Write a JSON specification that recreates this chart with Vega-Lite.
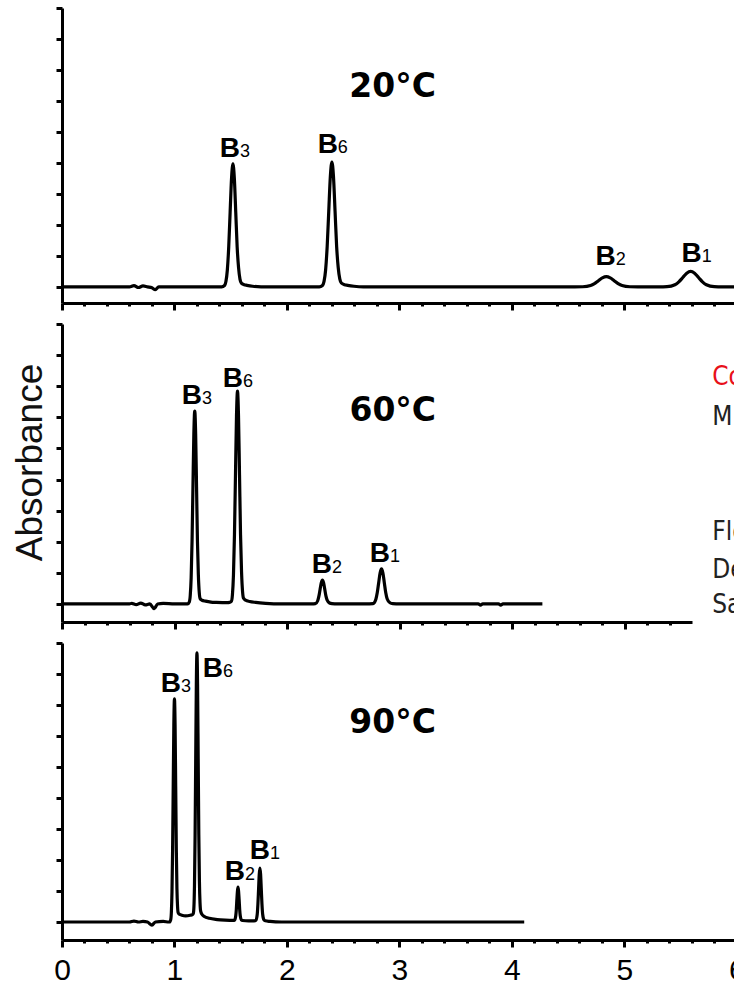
{
  "$schema": "https://vega.github.io/schema/vega-lite/v6.json",
  "padding": {"top": 6, "left": 10, "right": 0, "bottom": 0},
  "spacing": 10,
  "config": {
    "view": {"stroke": null},
    "axis": {"domainColor": "black", "tickColor": "black", "grid": false, "labelFont": "Liberation Sans", "titleFont": "Liberation Sans", "domainWidth": 3, "tickWidth": 3}
  },
  "datasets": {
    "p20": [
      {"x":0,"y":0},{"x":0.3,"y":0},{"x":0.6,"y":0},{"x":0.64,"y":0.04},{"x":0.68,"y":-0.02},{"x":0.72,"y":0.03},{"x":0.76,"y":0},{"x":0.8,"y":-0.03},{"x":0.83,"y":-0.09},{"x":0.86,"y":0},{"x":1.0,"y":0},{"x":1.42,"y":0},
      {"x":1.445,"y":0.044},{"x":1.4575,"y":0.174},{"x":1.47,"y":0.537},{"x":1.4825,"y":1.289},{"x":1.495,"y":2.408},{"x":1.5075,"y":3.504},{"x":1.52,"y":3.97},{"x":1.5325,"y":3.504},{"x":1.545,"y":2.408},{"x":1.5575,"y":1.289},{"x":1.57,"y":0.62},{"x":1.5825,"y":0.25},{"x":1.595,"y":0.12},{"x":1.62,"y":0.07},{"x":1.645,"y":0.05},{"x":1.695,"y":0.02},{"x":1.77,"y":0},
      {"x":2.0,"y":0},{"x":2.288,"y":0},
      {"x":2.316,"y":0.045},{"x":2.33,"y":0.177},{"x":2.344,"y":0.545},{"x":2.358,"y":1.309},{"x":2.372,"y":2.444},{"x":2.386,"y":3.556},{"x":2.4,"y":4.03},{"x":2.414,"y":3.556},{"x":2.428,"y":2.444},{"x":2.442,"y":1.309},{"x":2.456,"y":0.625},{"x":2.47,"y":0.257},{"x":2.484,"y":0.125},{"x":2.512,"y":0.07},{"x":2.54,"y":0.05},{"x":2.596,"y":0.02},{"x":2.68,"y":0},
      {"x":3.5,"y":0},{"x":4.56,"y":0},
      {"x":4.63,"y":0.004},{"x":4.7,"y":0.045},{"x":4.735,"y":0.107},{"x":4.77,"y":0.2},{"x":4.805,"y":0.291},{"x":4.84,"y":0.33},{"x":4.875,"y":0.291},{"x":4.91,"y":0.2},{"x":4.945,"y":0.107},{"x":4.98,"y":0.045},{"x":5.05,"y":0.004},{"x":5.12,"y":0},
      {"x":5.31,"y":0},
      {"x":5.38,"y":0.006},{"x":5.45,"y":0.068},{"x":5.485,"y":0.162},{"x":5.52,"y":0.303},{"x":5.555,"y":0.441},{"x":5.59,"y":0.5},{"x":5.625,"y":0.441},{"x":5.66,"y":0.303},{"x":5.695,"y":0.162},{"x":5.73,"y":0.068},{"x":5.8,"y":0.006},{"x":5.87,"y":0},{"x":6.5,"y":0}
    ],
    "p60": [
      {"x":0,"y":0},{"x":0.3,"y":0},{"x":0.6,"y":0},{"x":0.62,"y":0.02},{"x":0.66,"y":-0.02},{"x":0.7,"y":0.03},{"x":0.74,"y":-0.03},{"x":0.78,"y":0},{"x":0.82,"y":-0.15},{"x":0.85,"y":0},{"x":0.9,"y":0.02},{"x":1.0,"y":0},{"x":1.116,"y":0},
      {"x":1.132,"y":0.069},{"x":1.14,"y":0.272},{"x":1.148,"y":0.839},{"x":1.156,"y":2.013},{"x":1.164,"y":3.76},{"x":1.172,"y":5.47},{"x":1.18,"y":6.2},{"x":1.188,"y":5.47},{"x":1.196,"y":3.76},{"x":1.204,"y":2.013},{"x":1.212,"y":0.94},{"x":1.22,"y":0.37},{"x":1.228,"y":0.17},{"x":1.244,"y":0.12},{"x":1.276,"y":0.09},{"x":1.324,"y":0.06},{"x":1.372,"y":0.05},{"x":1.47,"y":0.04},
      {"x":1.488,"y":0.05},{"x":1.506,"y":0.09},{"x":1.515,"y":0.3},{"x":1.524,"y":0.925},{"x":1.533,"y":2.221},{"x":1.542,"y":4.148},{"x":1.551,"y":6.036},{"x":1.56,"y":6.84},{"x":1.569,"y":6.036},{"x":1.578,"y":4.148},{"x":1.587,"y":2.221},{"x":1.596,"y":1.03},{"x":1.605,"y":0.4},{"x":1.614,"y":0.18},{"x":1.632,"y":0.12},{"x":1.668,"y":0.08},{"x":1.722,"y":0.05},{"x":1.81,"y":0.02},{"x":1.95,"y":0},
      {"x":2.22,"y":0},
      {"x":2.252,"y":0.009},{"x":2.273,"y":0.104},{"x":2.2835,"y":0.25},{"x":2.294,"y":0.467},{"x":2.3045,"y":0.68},{"x":2.315,"y":0.77},{"x":2.3255,"y":0.68},{"x":2.336,"y":0.467},{"x":2.3465,"y":0.25},{"x":2.357,"y":0.12},{"x":2.378,"y":0.03},{"x":2.399,"y":0.01},{"x":2.45,"y":0},
      {"x":2.7,"y":0},
      {"x":2.765,"y":0.013},{"x":2.79,"y":0.153},{"x":2.8025,"y":0.367},{"x":2.815,"y":0.685},{"x":2.8275,"y":0.997},{"x":2.84,"y":1.13},{"x":2.8525,"y":0.997},{"x":2.865,"y":0.685},{"x":2.8775,"y":0.367},{"x":2.89,"y":0.17},{"x":2.915,"y":0.04},{"x":2.94,"y":0.01},{"x":3.0,"y":0},
      {"x":3.5,"y":0},{"x":3.7,"y":0},{"x":3.72,"y":-0.04},{"x":3.74,"y":0},{"x":3.88,"y":0},{"x":3.9,"y":-0.04},{"x":3.92,"y":0},{"x":4.27,"y":0}
    ],
    "p90": [
      {"x":0,"y":0},{"x":0.3,"y":0},{"x":0.6,"y":0},{"x":0.64,"y":0.03},{"x":0.68,"y":0},{"x":0.72,"y":0.02},{"x":0.76,"y":0},{"x":0.8,"y":-0.1},{"x":0.83,"y":0},{"x":0.9,"y":0.02},{"x":0.95,"y":0},
      {"x":0.956,"y":0},{"x":0.967,"y":0.08},{"x":0.9725,"y":0.316},{"x":0.978,"y":0.974},{"x":0.9835,"y":2.338},{"x":0.989,"y":4.367},{"x":0.9945,"y":6.354},{"x":1.0,"y":7.2},{"x":1.0055,"y":6.354},{"x":1.011,"y":4.367},{"x":1.0165,"y":2.338},{"x":1.022,"y":1.07},{"x":1.0275,"y":0.5},{"x":1.033,"y":0.3},{"x":1.044,"y":0.25},{"x":1.066,"y":0.22},{"x":1.099,"y":0.2},{"x":1.14,"y":0.22},{"x":1.16,"y":0.24},
      {"x":1.167,"y":0.27},{"x":1.1725,"y":0.45},{"x":1.178,"y":1.174},{"x":1.1835,"y":2.818},{"x":1.189,"y":5.265},{"x":1.1945,"y":7.66},{"x":1.2,"y":8.68},{"x":1.2055,"y":7.66},{"x":1.211,"y":5.265},{"x":1.2165,"y":2.818},{"x":1.222,"y":1.3},{"x":1.2275,"y":0.6},{"x":1.233,"y":0.35},{"x":1.244,"y":0.25},{"x":1.266,"y":0.18},{"x":1.31,"y":0.12},{"x":1.38,"y":0.08},{"x":1.45,"y":0.06},{"x":1.52,"y":0.05},
      {"x":1.535,"y":0.06},{"x":1.545,"y":0.2},{"x":1.55,"y":0.4},{"x":1.555,"y":0.72},{"x":1.56,"y":1.0},{"x":1.565,"y":1.13},{"x":1.57,"y":1.0},{"x":1.575,"y":0.72},{"x":1.58,"y":0.4},{"x":1.585,"y":0.2},{"x":1.595,"y":0.07},{"x":1.605,"y":0.05},{"x":1.66,"y":0.04},{"x":1.71,"y":0.04},
      {"x":1.724,"y":0.06},{"x":1.736,"y":0.25},{"x":1.742,"y":0.58},{"x":1.748,"y":1.06},{"x":1.754,"y":1.54},{"x":1.76,"y":1.74},{"x":1.766,"y":1.54},{"x":1.772,"y":1.06},{"x":1.778,"y":0.58},{"x":1.784,"y":0.26},{"x":1.796,"y":0.07},{"x":1.808,"y":0.04},{"x":1.85,"y":0.02},{"x":1.95,"y":0},{"x":3.0,"y":0},{"x":4.11,"y":0}
    ],
    "labels": [
      {"p":20,"x":1.582,"y":4.19,"b":"B","n":"3"},{"p":20,"x":2.453,"y":4.32,"b":"B","n":"6"},{"p":20,"x":4.924,"y":0.71,"b":"B","n":"2"},{"p":20,"x":5.689,"y":0.81,"b":"B","n":"1"},
      {"p":60,"x":1.244,"y":6.43,"b":"B","n":"3"},{"p":60,"x":1.609,"y":6.98,"b":"B","n":"6"},{"p":60,"x":2.4,"y":1.0,"b":"B","n":"2"},{"p":60,"x":2.916,"y":1.35,"b":"B","n":"1"},
      {"p":90,"x":1.058,"y":7.42,"b":"B","n":"3"},{"p":90,"x":1.431,"y":7.9,"b":"B","n":"6"},{"p":90,"x":1.627,"y":1.35,"b":"B","n":"2"},{"p":90,"x":1.849,"y":2.03,"b":"B","n":"1"}
    ],
    "titles": [
      {"p":20,"x":2.94,"y":6.13,"t":"20°C"},
      {"p":60,"x":2.94,"y":5.88,"t":"60°C"},
      {"p":90,"x":2.94,"y":6.1,"t":"90°C"}
    ],
    "notes": [
      {"x":5.78,"y":7.04,"t":"Co"},
      {"x":5.78,"y":5.76,"t":"M"},
      {"x":5.78,"y":2.06,"t":"Flo"},
      {"x":5.78,"y":0.84,"t":"Det"},
      {"x":5.78,"y":-0.29,"t":"Sam"}
    ]
  },
  "vconcat": [
    {
      "width": 731, "height": 295,
      "resolve": {"axis": {"x": "independent"}},
      "layer": [
        {
          "encoding": {
            "x": {"field": "x", "type": "quantitative", "scale": {"domain": [0, 6.5], "nice": false, "zero": false},
              "axis": {"orient": "bottom", "title": null, "labels": false, "values": [0,1,2,3,4,5,6], "tickSize": 7}},
            "y": {"field": "y", "type": "quantitative", "scale": {"domain": [-0.52, 9], "nice": false, "zero": false},
              "axis": {"title": null, "labels": false, "values": [0,1,2,3,4,5,6,7,8,9], "tickSize": 6}}
          },
          "layer": [
            {"data": {"name": "p20"}, "mark": {"type": "line", "color": "black", "strokeWidth": 3.2, "interpolate": "monotone", "strokeJoin": "round"}},
            {"data": {"name": "labels"}, "transform": [{"filter": "datum.p == 20"}],
             "mark": {"type": "text", "align": "right", "baseline": "alphabetic", "font": "Liberation Sans", "fontWeight": "bold", "fontSize": 28, "color": "black"},
             "encoding": {"text": {"field": "b"}}},
            {"data": {"name": "labels"}, "transform": [{"filter": "datum.p == 20"}],
             "mark": {"type": "text", "align": "left", "baseline": "alphabetic", "font": "Liberation Sans", "fontSize": 18, "color": "black"},
             "encoding": {"text": {"field": "n"}}},
            {"data": {"name": "titles"}, "transform": [{"filter": "datum.p == 20"}],
             "mark": {"type": "text", "align": "center", "baseline": "alphabetic", "font": "DejaVu Sans", "fontWeight": "bold", "fontSize": 33, "color": "black"},
             "encoding": {"text": {"field": "t"}}}
          ]
        },
        {
          "data": {"name": "p20"},
          "mark": {"type": "point", "opacity": 0},
          "encoding": {
            "x": {"field": "x", "type": "quantitative",
              "axis": {"orient": "bottom", "title": null, "labels": false, "domain": false, "tickSize": 3,
                "values": [0.2,0.4,0.6,0.8,1.2,1.4,1.6,1.8,2.2,2.4,2.6,2.8,3.2,3.4,3.6,3.8,4.2,4.4,4.6,4.8,5.2,5.4,5.6,5.8,6.2,6.4]}}
          }
        }
      ]
    },
    {
      "width": 630, "height": 298,
      "resolve": {"axis": {"x": "independent"}},
      "layer": [
        {
          "encoding": {
            "x": {"field": "x", "type": "quantitative", "scale": {"domain": [0, 5.6], "nice": false, "zero": false},
              "axis": {"orient": "bottom", "title": null, "labels": false, "values": [0,1,2,3,4,5], "tickSize": 7}},
            "y": {"field": "y", "type": "quantitative", "scale": {"domain": [-0.58, 9], "nice": false, "zero": false},
              "axis": {"title": "Absorbance", "labels": false, "values": [0,1,2,3,4,5,6,7,8,9], "tickSize": 6,
                "titleFontSize": 37, "titleFontWeight": "normal", "titleColor": "#111", "titleAngle": 270, "titleAlign": "center", "titleBaseline": "middle", "titleX": -32, "titleY": 138}}
          },
          "layer": [
            {"data": {"name": "p60"}, "mark": {"type": "line", "color": "black", "strokeWidth": 3.2, "interpolate": "monotone", "strokeJoin": "round"}},
            {"data": {"name": "labels"}, "transform": [{"filter": "datum.p == 60"}],
             "mark": {"type": "text", "align": "right", "baseline": "alphabetic", "font": "Liberation Sans", "fontWeight": "bold", "fontSize": 28, "color": "black"},
             "encoding": {"text": {"field": "b"}}},
            {"data": {"name": "labels"}, "transform": [{"filter": "datum.p == 60"}],
             "mark": {"type": "text", "align": "left", "baseline": "alphabetic", "font": "Liberation Sans", "fontSize": 18, "color": "black"},
             "encoding": {"text": {"field": "n"}}},
            {"data": {"name": "titles"}, "transform": [{"filter": "datum.p == 60"}],
             "mark": {"type": "text", "align": "center", "baseline": "alphabetic", "font": "DejaVu Sans", "fontWeight": "bold", "fontSize": 33, "color": "black"},
             "encoding": {"text": {"field": "t"}}},
            {"data": {"name": "notes"},
             "mark": {"type": "text", "align": "left", "baseline": "alphabetic", "font": "DejaVu Sans Condensed, Liberation Sans Narrow, Roboto Condensed, Roboto", "fontSize": 26},
             "encoding": {"text": {"field": "t"},
               "color": {"condition": {"test": "datum.t === 'Co'", "value": "#e8101a"}, "value": "#222222"}}}
          ]
        },
        {
          "data": {"name": "p60"},
          "mark": {"type": "point", "opacity": 0},
          "encoding": {
            "x": {"field": "x", "type": "quantitative",
              "axis": {"orient": "bottom", "title": null, "labels": false, "domain": false, "tickSize": 3,
                "values": [0.2,0.4,0.6,0.8,1.2,1.4,1.6,1.8,2.2,2.4,2.6,2.8,3.2,3.4,3.6,3.8,4.2,4.4,4.6,4.8,5.2,5.4]}}
          }
        }
      ]
    },
    {
      "width": 731, "height": 297,
      "resolve": {"axis": {"x": "independent"}},
      "layer": [
        {
          "encoding": {
            "x": {"field": "x", "type": "quantitative", "scale": {"domain": [0, 6.5], "nice": false, "zero": false},
              "axis": {"orient": "bottom", "title": null, "values": [0,1,2,3,4,5,6], "tickSize": 7, "format": "d",
                "labelOverlap": false, "labelFlush": false, "labelFontSize": 30, "labelColor": "black", "labelPadding": 8}},
            "y": {"field": "y", "type": "quantitative", "scale": {"domain": [-0.58, 9], "nice": false, "zero": false},
              "axis": {"title": null, "labels": false, "values": [0,1,2,3,4,5,6,7,8,9], "tickSize": 6}}
          },
          "layer": [
            {"data": {"name": "p90"}, "mark": {"type": "line", "color": "black", "strokeWidth": 3.2, "interpolate": "monotone", "strokeJoin": "round"}},
            {"data": {"name": "labels"}, "transform": [{"filter": "datum.p == 90"}],
             "mark": {"type": "text", "align": "right", "baseline": "alphabetic", "font": "Liberation Sans", "fontWeight": "bold", "fontSize": 28, "color": "black"},
             "encoding": {"text": {"field": "b"}}},
            {"data": {"name": "labels"}, "transform": [{"filter": "datum.p == 90"}],
             "mark": {"type": "text", "align": "left", "baseline": "alphabetic", "font": "Liberation Sans", "fontSize": 18, "color": "black"},
             "encoding": {"text": {"field": "n"}}},
            {"data": {"name": "titles"}, "transform": [{"filter": "datum.p == 90"}],
             "mark": {"type": "text", "align": "center", "baseline": "alphabetic", "font": "DejaVu Sans", "fontWeight": "bold", "fontSize": 33, "color": "black"},
             "encoding": {"text": {"field": "t"}}}
          ]
        },
        {
          "data": {"name": "p90"},
          "mark": {"type": "point", "opacity": 0},
          "encoding": {
            "x": {"field": "x", "type": "quantitative",
              "axis": {"orient": "bottom", "title": null, "labels": false, "domain": false, "tickSize": 3,
                "values": [0.2,0.4,0.6,0.8,1.2,1.4,1.6,1.8,2.2,2.4,2.6,2.8,3.2,3.4,3.6,3.8,4.2,4.4,4.6,4.8,5.2,5.4,5.6,5.8,6.2,6.4]}}
          }
        }
      ]
    }
  ]
}
